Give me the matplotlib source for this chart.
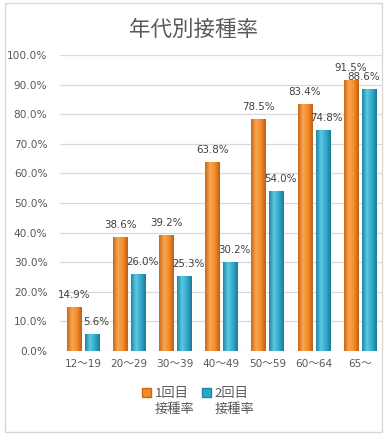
import numpy as np
import matplotlib
matplotlib.use("Agg")
import matplotlib.pyplot as plt
from matplotlib.patches import Rectangle, Patch
from matplotlib.colors import LinearSegmentedColormap

plt.rcParams['font.family'] = ['DejaVu Sans', 'Noto Sans CJK JP']

# data
ages = ['12〜19', '20〜29', '30〜39', '40〜49', '50〜59', '60〜64', '65〜']
dose1 = [14.9, 38.6, 39.2, 63.8, 78.5, 83.4, 91.5]
dose2 = [5.6, 26.0, 25.3, 30.2, 54.0, 74.8, 88.6]
labels = ['1回目', '2回目']
label_sub = '接種率'

orange = '#F38B22'
blue = '#2DA5C6'
cm_or = LinearSegmentedColormap.from_list('or', ['#C9681A', '#F8A550', '#F58D2A', '#C05F14'])
cm_bl = LinearSegmentedColormap.from_list('bl', ['#1F87A6', '#5BC8E3', '#33AACB', '#1A7B97'])

fig = plt.figure(figsize=(3.87, 4.37), dpi=100)
ax = fig.add_axes([60/387, 1-351/437, 323/387, 296/437])

x = np.arange(len(ages))
w = 0.315
gap = 0.075
b1 = ax.bar(x - (w+gap)/2, dose1, w, color=orange, zorder=3)
b2 = ax.bar(x + (w+gap)/2, dose2, w, color=blue, zorder=3)

# cylinder-ish shading
grad = np.linspace(0, 1, 64).reshape(1, -1)
for bars, cm in ((b1, cm_or), (b2, cm_bl)):
    for r in bars:
        x0, y0 = r.get_x(), r.get_y()
        im = ax.imshow(grad, cmap=cm, aspect='auto', zorder=3.5,
                       extent=(x0, x0 + r.get_width(), y0, y0 + r.get_height()))
        im.set_clip_path(r)

for r, v in zip(b1, dose1):
    ax.annotate(f'{v:.1f}%', (r.get_x() + r.get_width()/2, v), xytext=(0, 5),
                textcoords='offset points', ha='center', va='bottom',
                fontsize=7.4, color='#404040', zorder=5)
for i, (r, v) in enumerate(zip(b2, dose2)):
    dx = 3 if i < len(dose2) - 1 else -4
    ax.annotate(f'{v:.1f}%', (r.get_x() + r.get_width()/2, v), xytext=(dx, 5),
                textcoords='offset points', ha='center', va='bottom',
                fontsize=7.4, color='#404040', zorder=5)

ax.set_xlim(-0.5, 6.5)
ax.set_ylim(0, 100)
ax.set_yticks(np.arange(0, 101, 10))
ax.set_yticklabels([f'{t:.1f}%' for t in np.arange(0, 101, 10)])
ax.set_xticks(x)
ax.set_xticklabels(ages)
ax.tick_params(axis='both', length=0, labelsize=7.6, labelcolor='#595959')
ax.tick_params(axis='y', pad=9)
ax.tick_params(axis='x', pad=6)
ax.grid(axis='y', color='#D9D9D9', linewidth=0.9, zorder=0)
for s in ax.spines.values():
    s.set_visible(False)

fig.text(0.5, 1-30/437, '年代別接種率', ha='center', va='center',
         fontsize=15.5, color='#595959', family='Noto Sans CJK JP')

handles = [Patch(facecolor=orange, edgecolor='#C9681A'), Patch(facecolor=blue, edgecolor='#1F87A6')]
leg = fig.legend(handles, labels, loc='center', bbox_to_anchor=(0.505, 1-394/437),
                 ncol=2, frameon=False, handlelength=0.65, handleheight=0.65,
                 handletextpad=0.3, columnspacing=1.0, labelcolor='#595959',
                 prop={'family': 'Noto Sans CJK JP', 'size': 9.5})

fig.canvas.draw()
inv = fig.transFigure.inverted()
for t in leg.get_texts():
    bb = t.get_window_extent()
    x0, y0 = inv.transform((bb.x0, bb.y0))
    fig.text(x0, y0 - 2/437, label_sub, ha='left', va='top', fontsize=9.5,
             color='#595959', family='Noto Sans CJK JP')

fig.patches.append(Rectangle((5/387, 1-432/437), 377/387, 429/437, transform=fig.transFigure,
                             fill=False, edgecolor='#D9D9D9', linewidth=1))

fig.savefig('out.png', dpi=100)
